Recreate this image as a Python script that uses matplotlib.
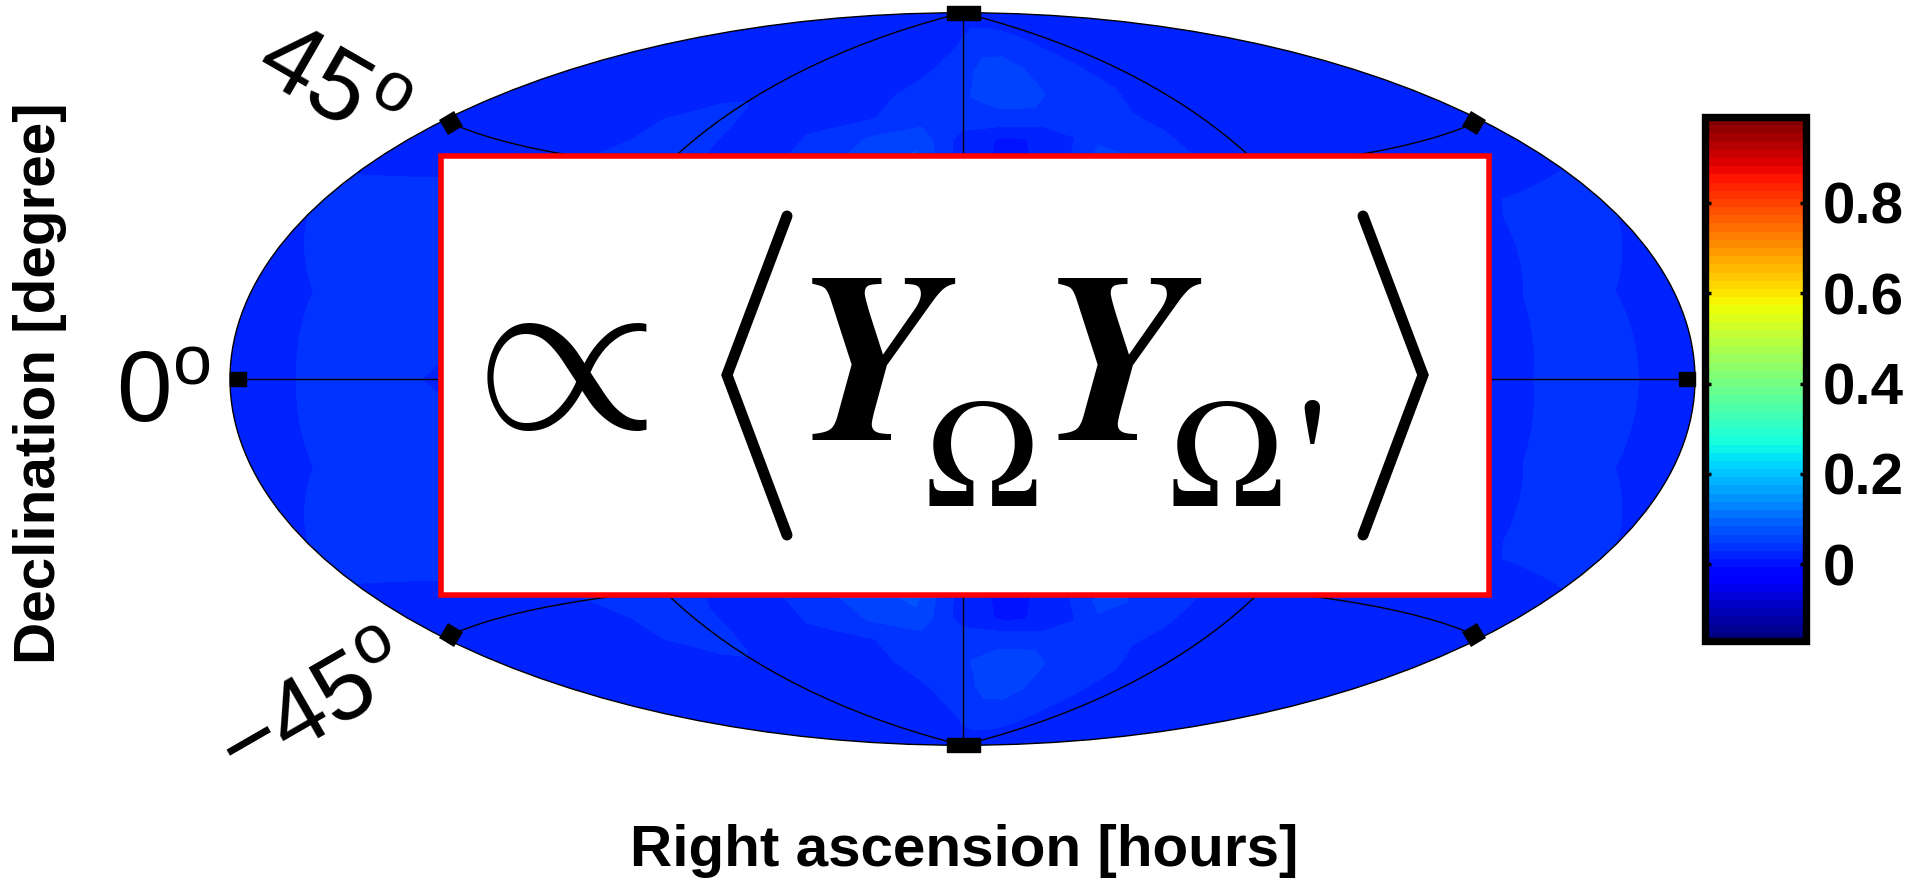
import numpy as np
import matplotlib
matplotlib.use("Agg")
import matplotlib.pyplot as plt
from matplotlib.cm import ScalarMappable
from matplotlib.colors import Normalize
from matplotlib.markers import MarkerStyle
from matplotlib.path import Path
from matplotlib.patches import Rectangle
from matplotlib.transforms import Affine2D

plt.rcParams['font.family'] = ['Liberation Sans', 'DejaVu Sans']
plt.rcParams['mathtext.fontset'] = 'custom'
plt.rcParams['mathtext.rm'] = 'Liberation Sans'

# sky grid, degrees
lon_deg = [-180, -150, -120, -90, -75, -60, -45, -30, -15, 0, 15, 30, 45, 60, 90, 120, 150, 180]
lat_deg = [-90, -82, -73, -66, -60, -55, -50, -45, -30, -15, 0, 15, 30, 45, 50, 55, 60, 66, 73, 82, 90]

# correlation, one row per latitude (south to north)
field = [
    [.020, .020, .020, .020, .020, .020, .020, .020, .020, .020, .020, .020, .020, .020, .020, .020, .020, .020],
    [.020, .020, .020, .020, .020, .020, .020, .020, .024, .032, .035, .035, .035, .032, .020, .020, .020, .020],
    [.020, .020, .020, .020, .020, .020, .020, .020, .034, .040, .054, .054, .040, .035, .020, .020, .020, .020],
    [.020, .020, .020, .020, .020, .020, .020, .030, .040, .045, .056, .056, .040, .036, .020, .020, .020, .020],
    [.020, .020, .022, .032, .020, .020, .020, .032, .040, .040, .040, .040, .040, .032, .020, .020, .020, .020],
    [.020, .020, .026, .036, .022, .024, .038, .050, .060, .020, .008, .015, .040, .035, .020, .020, .020, .020],
    [.020, .020, .026, .036, .024, .024, .040, .055, .070, .020, .005, .020, .058, .036, .020, .020, .020, .020],
    [.022, .022, .028, .038, .028, .025, .045, .060, .080, .020, .004, .020, .050, .036, .020, .020, .022, .024],
    [.032, .036, .036, .040, .040, .040, .040, .050, .050, .040, .040, .040, .040, .040, .030, .020, .031, .032],
    [.020, .035, .033, .040, .040, .040, .040, .040, .040, .040, .040, .040, .040, .040, .030, .022, .036, .020],
    [.018, .035, .028, .040, .040, .040, .040, .040, .040, .040, .040, .040, .040, .040, .030, .022, .038, .018],
    [.020, .035, .033, .040, .040, .040, .040, .040, .040, .040, .040, .040, .040, .040, .030, .022, .036, .020],
    [.032, .036, .036, .040, .040, .040, .040, .050, .050, .040, .040, .040, .040, .040, .030, .020, .031, .032],
    [.022, .022, .028, .038, .028, .025, .045, .060, .080, .020, .004, .020, .050, .036, .020, .020, .022, .024],
    [.020, .020, .026, .036, .024, .024, .040, .055, .070, .020, .005, .020, .058, .036, .020, .020, .020, .020],
    [.020, .020, .026, .036, .022, .024, .038, .050, .060, .020, .008, .015, .040, .035, .020, .020, .020, .020],
    [.020, .020, .022, .032, .020, .020, .020, .032, .040, .040, .040, .040, .040, .032, .020, .020, .020, .020],
    [.020, .020, .020, .020, .020, .020, .020, .030, .040, .045, .056, .056, .040, .036, .020, .020, .020, .020],
    [.020, .020, .020, .020, .020, .020, .020, .020, .032, .040, .056, .056, .040, .035, .020, .020, .020, .020],
    [.020, .020, .020, .020, .020, .020, .020, .020, .022, .030, .035, .035, .035, .032, .020, .020, .020, .020],
    [.020, .020, .020, .020, .020, .020, .020, .020, .020, .020, .020, .020, .020, .020, .020, .020, .020, .020],
]

color_min = -0.17
color_max = 0.99
n_colors = 64
cbar_ticks = [0, 0.2, 0.4, 0.6, 0.8]
cbar_labels = ["0", "0.2", "0.4", "0.6", "0.8"]

W, H = 1915, 885
PX = 72 / 100   # one pixel in points


def box(left, top, right, bottom):
    return [left / W, 1 - bottom / H, (right - left) / W, (bottom - top) / H]


fig = plt.figure(figsize=(W / 100, H / 100), dpi=100)

ax = fig.add_axes(box(230, 12, 1695, 746), projection="hammer")
cmap = plt.get_cmap("jet", n_colors)
levels = np.linspace(color_min, color_max, n_colors + 1)
ax.contourf(np.radians(lon_deg), np.radians(lat_deg), np.array(field), levels=levels, cmap=cmap)

# only the 0, +-90 meridians and 0, +-45 parallels
ax.set_longitude_grid(90)
ax.set_latitude_grid(45)
ax.set_longitude_grid_ends(90)
ax.grid(True, color="black", lw=1.0, ls="-")
ax.set_xticklabels([])
ax.set_yticklabels([])
ax.spines["geo"].set_linewidth(1.0)
ax.spines["geo"].set_edgecolor("black")


def wide_marker(w, h):
    return Path([(-w, -h), (w, -h), (w, h), (-w, h), (-w, -h)], closed=True)


# tick blocks at the ends of the grid lines
ax.plot(np.radians([0, 0]), np.radians([-89.99, 89.99]), ls="none", color="black",
        marker=wide_marker(16.5, 7), ms=33 * PX, clip_on=False, zorder=5)
ax.plot(np.radians([-177.5, 177.5]), [0, 0], ls="none", color="black",
        marker=wide_marker(8, 7), ms=16 * PX, clip_on=False, zorder=5)
for lon, lat, ang in [(-176, 45, 30), (176, 45, -30), (-176, -45, -30), (176, -45, 30)]:
    ax.plot(np.radians([lon]), np.radians([lat]), ls="none", color="black",
            marker=MarkerStyle("s", transform=Affine2D().rotate_deg(ang)), ms=17 * PX,
            mew=0, clip_on=False, zorder=5)

# colorbar
cax = fig.add_axes(box(1705, 117, 1806, 641))
sm = ScalarMappable(norm=Normalize(color_min, color_max), cmap=cmap)
cb = fig.colorbar(sm, cax=cax, ticks=cbar_ticks)
cb.ax.set_yticklabels(cbar_labels, fontsize=42, fontweight="bold")
cb.ax.tick_params(axis="y", direction="in", length=4.5, width=2.5, left=True, right=True, pad=12)
cb.outline.set_linewidth(5.3)

# everything placed by hand in pixel coordinates
over = fig.add_axes([0, 0, 1, 1], zorder=10)
over.set_xlim(0, W)
over.set_ylim(H, 0)
over.axis("off")
over.patch.set_alpha(0)

over.text(964, 851, "Right ascension [hours]", fontsize=42, fontweight="bold", ha="center", va="center")
over.text(40, 383, "Declination [degree]", fontsize=42, fontweight="bold", ha="center", va="center", rotation=90)
over.text(329, 89, r"$\mathregular{45^{o}}$", fontsize=72, ha="center", va="center", rotation=-30, rotation_mode="anchor")
over.text(163, 396, r"$\mathregular{0^{o}}$", fontsize=72, ha="center", va="center")
over.text(316, 712, r"$\mathregular{-45^{o}}$", fontsize=70, ha="center", va="center", rotation=30, rotation_mode="anchor")

# the formula inset
over.add_patch(Rectangle((441, 155.5), 1048, 439.5, facecolor="white", edgecolor="#ff0000", lw=5.5 * PX, zorder=3))

stix = {"family": "STIXGeneral", "color": "black", "zorder": 4, "va": "baseline", "ha": "left"}
over.text(540, 366, r"$\propto$", fontsize=172, math_fontfamily="cm", color="black", zorder=4, ha="center", va="center")
over.text(795, 440, "Y", fontsize=175, fontweight="bold", fontstyle="italic", **stix)
over.text(1041, 440, "Y", fontsize=175, fontweight="bold", fontstyle="italic", **stix)
over.text(925, 506, "\u03a9", fontsize=112, **stix)
over.text(1169, 506, "\u03a9", fontsize=112, **stix)
over.text(1295, 522, "'", fontsize=130, **stix)

over.plot([787, 727, 787], [216, 375, 535], color="black", lw=11 * PX, solid_capstyle="round", solid_joinstyle="miter", zorder=4)
over.plot([1363, 1423, 1363], [216, 375, 535], color="black", lw=11 * PX, solid_capstyle="round", solid_joinstyle="miter", zorder=4)

fig.savefig("out.png", dpi=100)
